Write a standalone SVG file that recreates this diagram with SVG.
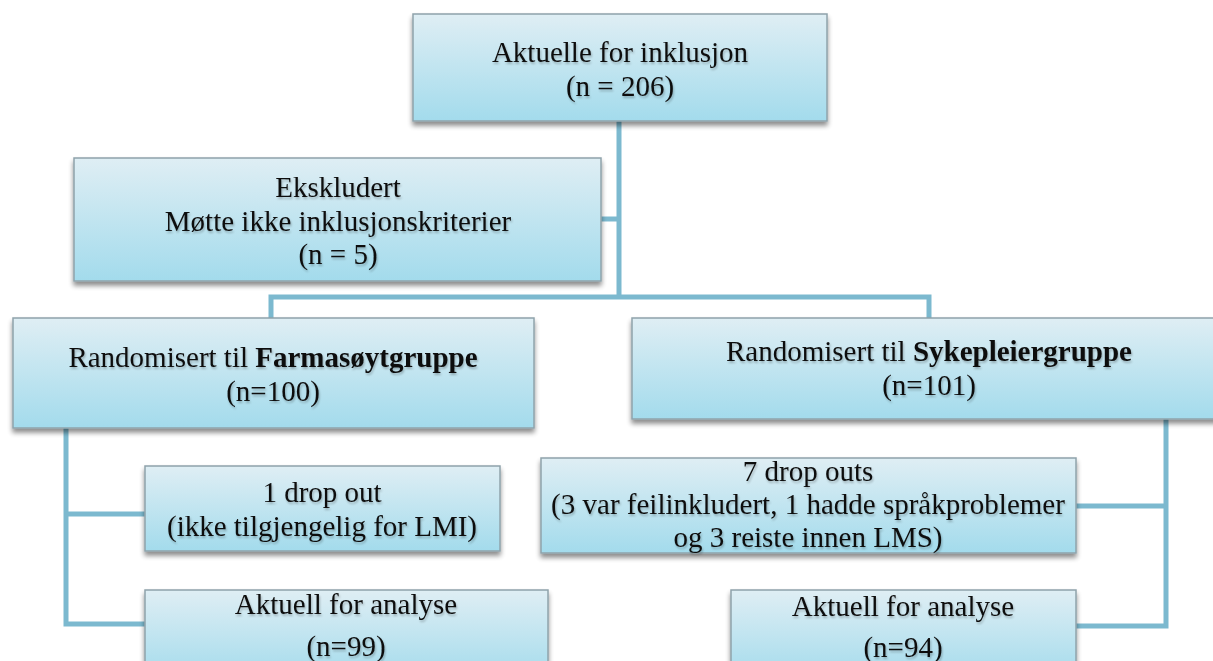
<svg xmlns="http://www.w3.org/2000/svg" width="1213" height="661" viewBox="0 0 1213 661">
<defs>
<linearGradient id="g" x1="0" y1="0" x2="0" y2="1">
<stop offset="0" stop-color="#dfeef4"/>
<stop offset="1" stop-color="#a3dbec"/>
</linearGradient>
<filter id="sh" x="-5%" y="-10%" width="110%" height="130%">
<feGaussianBlur in="SourceAlpha" stdDeviation="2.5"/>
<feOffset dx="0" dy="4" result="b"/>
<feComponentTransfer><feFuncA type="linear" slope="0.45"/></feComponentTransfer>
<feMerge><feMergeNode/><feMergeNode in="SourceGraphic"/></feMerge>
</filter>
<filter id="ts" x="-5%" y="-20%" width="110%" height="150%">
<feGaussianBlur in="SourceAlpha" stdDeviation="1.2"/>
<feOffset dx="1" dy="2"/>
<feComponentTransfer><feFuncA type="linear" slope="0.25"/></feComponentTransfer>
<feMerge><feMergeNode/><feMergeNode in="SourceGraphic"/></feMerge>
</filter>
</defs>
<style>
.box{fill:url(#g);stroke:#8fa3ab;stroke-width:1.5;filter:url(#sh)}
.t{font-family:"Liberation Serif","Times New Roman",serif;font-size:29px;fill:#111;text-anchor:middle;filter:url(#ts)}
.b{font-weight:bold}
.c{fill:none;stroke:#7cb9cf;stroke-width:5}
</style>
<rect width="1213" height="661" fill="#fff"/>
<g id="connectors">
<path class="c" d="M619 121 V297"/>
<path class="c" d="M601 219 H619"/>
<path class="c" d="M271 318 V297 H929 V318"/>
<path class="c" d="M66 428 V624 H145"/>
<path class="c" d="M66 514 H145"/>
<path class="c" d="M1166 419 V626 H1076"/>
<path class="c" d="M1076 506 H1166"/>
</g>
<g id="n1"><rect class="box" x="413" y="14" width="414" height="107"/>
<text class="t" x="620" y="62">Aktuelle for inklusjon</text>
<text class="t" x="620" y="96">(n = 206)</text></g>
<g id="n2"><rect class="box" x="74" y="158" width="527" height="123"/>
<text class="t" x="338" y="197">Ekskludert</text>
<text class="t" x="338" y="231">Møtte ikke inklusjonskriterier</text>
<text class="t" x="338" y="264">(n = 5)</text></g>
<g id="n3"><rect class="box" x="13" y="318" width="521" height="110"/>
<text class="t" x="273" y="367">Randomisert til <tspan class="b">Farmasøytgruppe</tspan></text>
<text class="t" x="273" y="401">(n=100)</text></g>
<g id="n4"><rect class="box" x="632" y="318" width="590" height="101"/>
<text class="t" x="929" y="361">Randomisert til <tspan class="b">Sykepleiergruppe</tspan></text>
<text class="t" x="929" y="395">(n=101)</text></g>
<g id="n5"><rect class="box" x="145" y="466" width="355" height="85"/>
<text class="t" x="322" y="502">1 drop out</text>
<text class="t" x="322" y="536">(ikke tilgjengelig for LMI)</text></g>
<g id="n6"><rect class="box" x="541" y="458" width="535" height="95"/>
<text class="t" x="808" y="481">7 drop outs</text>
<text class="t" x="808" y="514">(3 var feilinkludert, 1 hadde språkproblemer</text>
<text class="t" x="808" y="547">og 3 reiste innen LMS)</text></g>
<g id="n7"><rect class="box" x="145" y="590" width="403" height="90"/>
<text class="t" x="346" y="614">Aktuell for analyse</text>
<text class="t" x="346" y="656">(n=99)</text></g>
<g id="n8"><rect class="box" x="731" y="590" width="345" height="90"/>
<text class="t" x="903" y="616">Aktuell for analyse</text>
<text class="t" x="903" y="657">(n=94)</text></g>
</svg>
